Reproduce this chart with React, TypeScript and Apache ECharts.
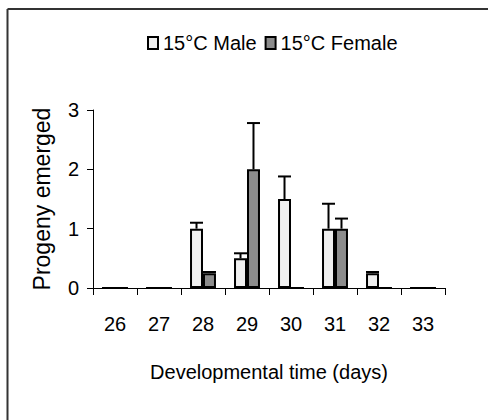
import React, { useEffect, useRef } from "react";
import * as echarts from "echarts";

const categories = ["26", "27", "28", "29", "30", "31", "32", "33"];
const maleValues = [0, 0, 1, 0.5, 1.5, 1, 0.25, 0];
const femaleValues = [0, 0, 0.25, 2, 0, 1, 0, 0];
const maleErrTop: (number | null)[] = [null, null, 1.1, 0.585, 1.88, 1.42, 0.27, null];
const femaleErrTop: (number | null)[] = [null, null, 0.27, 2.78, null, 1.17, null, null];
const yTicks = [0, 1, 2, 3];

const FONT = "'Liberation Sans', Arial, sans-serif";
const FS = 20;
const GAP = 0.41;

function errData(vals: number[], tops: (number | null)[]) {
  const out: any[] = [];
  tops.forEach((t, i) => {
    if (t !== null) out.push([i, t, vals[i]]);
  });
  return out;
}

function makeRender(side: number) {
  return (params: any, api: any) => {
    const i = api.value(0);
    const top = api.value(1);
    const base = api.value(2);
    const band = api.size([1, 0])[0];
    const barW = (band * (1 - GAP)) / 2;
    const off = (side * barW) / 2;
    const p0 = api.coord([i, base]);
    const p1 = api.coord([i, top]);
    const x = p0[0] + off;
    const style = { stroke: "#000", lineWidth: 2 };
    return {
      type: "group",
      children: [
        { type: "line", shape: { x1: x, y1: p0[1], x2: x, y2: p1[1] }, style },
        { type: "line", shape: { x1: x - barW / 2, y1: p1[1], x2: x + barW / 2, y2: p1[1] }, style },
      ],
    };
  };
}

export default function App() {
  const ref = useRef<HTMLDivElement>(null);
  useEffect(() => {
    if (!ref.current) return;
    const chart = echarts.init(ref.current, null, { renderer: "svg" });
    chart.setOption({
      animation: false,
      backgroundColor: "#fff",
      textStyle: { fontFamily: FONT, color: "#000" },
      legend: {
        left: 142,
        top: 28,
        itemWidth: 10,
        itemHeight: 12,
        itemGap: 8,
        icon: "rect",
        textStyle: { fontFamily: FONT, fontSize: FS, color: "#000" },
        data: ["15°C Male", "15°C Female"],
      },
      grid: { left: 93, right: 43, top: 110, bottom: 132 },
      xAxis: {
        type: "category",
        data: categories,
        name: "Developmental time (days)",
        nameLocation: "middle",
        nameGap: 74,
        nameTextStyle: { fontFamily: FONT, fontSize: FS, color: "#000" },
        axisLine: { lineStyle: { color: "#000", width: 1 } },
        axisTick: { show: true, length: 7, lineStyle: { color: "#000" } },
        axisLabel: { margin: 26, fontFamily: FONT, fontSize: FS, color: "#000" },
        splitLine: { show: false },
      },
      yAxis: {
        type: "value",
        min: yTicks[0],
        max: yTicks[yTicks.length - 1],
        interval: 1,
        name: "Progeny emerged",
        nameLocation: "middle",
        nameGap: 40,
        nameTextStyle: { fontFamily: FONT, fontSize: 23, color: "#000" },
        axisLine: { show: true, lineStyle: { color: "#000", width: 1 } },
        axisTick: { show: true, length: 6, lineStyle: { color: "#000" } },
        axisLabel: { margin: 14, fontFamily: FONT, fontSize: FS, color: "#000" },
        splitLine: { show: false },
      },
      graphic: [
        { type: "line", shape: { x1: 7.5, y1: 9, x2: 490, y2: 9 }, style: { stroke: "#333", lineWidth: 2 } },
        { type: "line", shape: { x1: 7.5, y1: 9, x2: 7.5, y2: 425 }, style: { stroke: "#333", lineWidth: 2 } },
      ],
      series: [
        {
          name: "15°C Male",
          type: "bar",
          data: maleValues,
          barGap: "0%",
          barCategoryGap: GAP * 100 + "%",
          itemStyle: { color: "#f0f0f0", borderColor: "#000", borderWidth: 2 },
        },
        {
          name: "15°C Female",
          type: "bar",
          data: femaleValues,
          barGap: "0%",
          barCategoryGap: GAP * 100 + "%",
          itemStyle: { color: "#8c8c8c", borderColor: "#000", borderWidth: 2 },
        },
        {
          type: "custom",
          renderItem: makeRender(-1),
          data: errData(maleValues, maleErrTop),
          z: 5,
          silent: true,
        },
        {
          type: "custom",
          renderItem: makeRender(1),
          data: errData(femaleValues, femaleErrTop),
          z: 5,
          silent: true,
        },
      ],
    });
    return () => chart.dispose();
  }, []);
  return (
    <div
      ref={ref}
      style={{ position: "fixed", left: 0, top: 0, width: 488, height: 420 }}
    />
  );
}
